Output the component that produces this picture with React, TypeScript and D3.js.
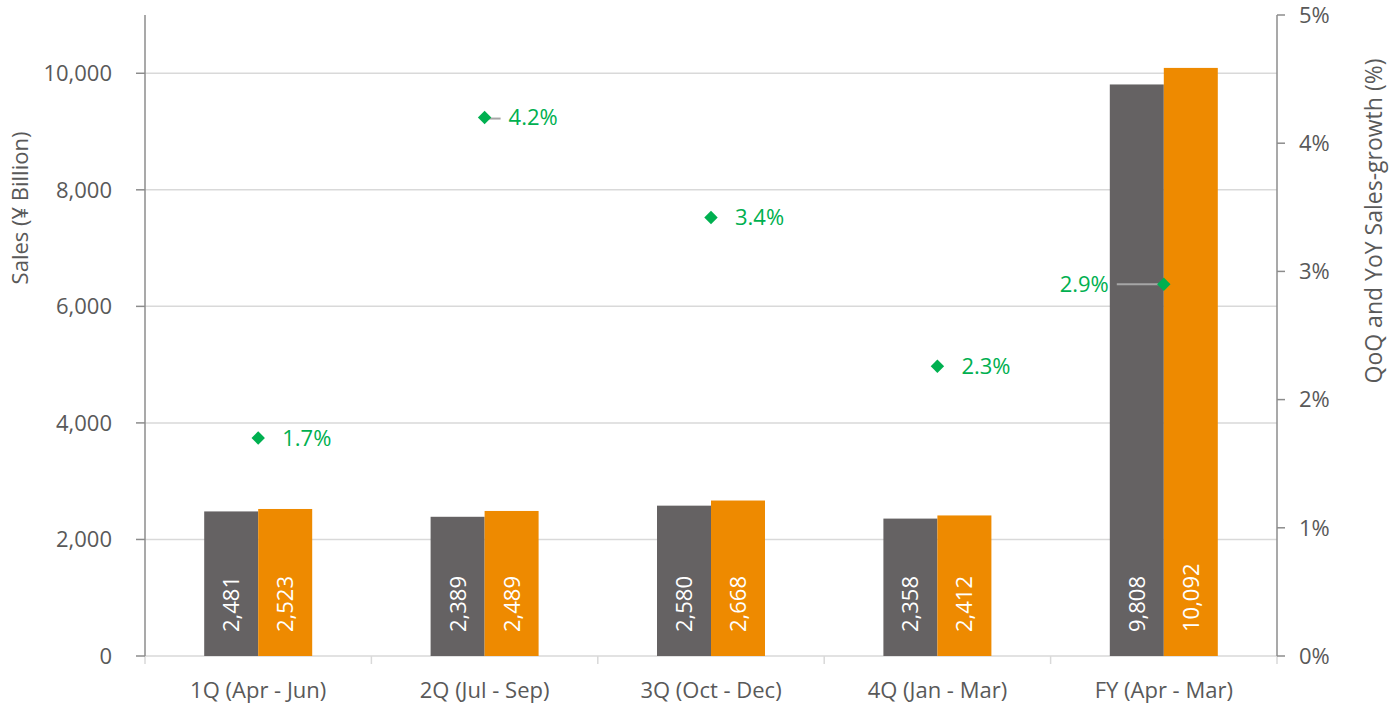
import React from "react";
import * as d3 from "d3";

const categories = ["1Q (Apr - Jun)", "2Q (Jul - Sep)", "3Q (Oct - Dec)", "4Q (Jan - Mar)", "FY (Apr - Mar)"];
const prevSales = [2481, 2389, 2580, 2358, 9808];
const currSales = [2523, 2489, 2668, 2412, 10092];
const growth = [1.7, 4.2, 3.42, 2.26, 2.9];
const growthLabelSide = ["right", "right", "right", "right", "left"];
const leftTicks = [0, 2000, 4000, 6000, 8000, 10000];
const rightTicks = [0, 1, 2, 3, 4, 5];

const W = 1399, H = 707;
const M = { left: 145, right: 1277, top: 15, bottom: 656 };
const FONT = "'Open Sans', 'Noto Sans', sans-serif";
const GRAY = "#656263";
const ORANGE = "#EE8A00";
const GREEN = "#00B050";
const TXT = "#595959";
const FS = 22;

export default function App() {
  const x = d3.scaleBand<string>().domain(categories).range([M.left, M.right]);
  const inner = d3.scaleBand<string>().domain(["prev", "curr"]).range([0, 108]);
  const y = d3.scaleLinear().domain([0, 11000]).range([M.bottom, M.top]);
  const y2 = d3.scaleLinear().domain([0, 5]).range([M.bottom, M.top]);
  const fmt = d3.format(",");
  const bw = inner.bandwidth();

  return (
    <svg width={W} height={H} style={{ position: "absolute", left: 0, top: 0, fontFamily: FONT }}>
      <rect width={W} height={H} fill="#fff" />
      {leftTicks.filter(t => t > 0).map(t => (
        <line key={t} x1={M.left} x2={M.right} y1={y(t)} y2={y(t)} stroke="#d9d9d9" strokeWidth={1.5} />
      ))}
      <line x1={M.left} x2={M.right} y1={M.bottom} y2={M.bottom} stroke="#d9d9d9" strokeWidth={1.5} />
      {categories.map((c, i) => (
        <line key={"bt" + i} x1={x(c)!} x2={x(c)!} y1={M.bottom} y2={M.bottom + 8} stroke="#d9d9d9" strokeWidth={1.5} />
      ))}
      <line x1={M.right} x2={M.right} y1={M.bottom} y2={M.bottom + 8} stroke="#d9d9d9" strokeWidth={1.5} />
      {categories.map((c, i) => {
        const cx = x(c)! + x.bandwidth() / 2 - 54;
        const vals = [prevSales[i], currSales[i]];
        const cols = [GRAY, ORANGE];
        return (
          <g key={"b" + i}>
            {["prev", "curr"].map((k, j) => {
              const bx = cx + inner(k)!;
              const by = y(vals[j]);
              return (
                <g key={k}>
                  <rect x={bx} y={by} width={bw} height={M.bottom - by} fill={cols[j]} />
                  <text
                    transform={`translate(${bx + bw / 2 + 8},${M.bottom - 24}) rotate(-90)`}
                    fill="#fff" fontSize={FS} textAnchor="start">
                    {fmt(vals[j])}
                  </text>
                </g>
              );
            })}
          </g>
        );
      })}
      <line x1={M.left} x2={M.left} y1={M.top} y2={M.bottom} stroke="#8c8c8c" strokeWidth={1.5} />
      {leftTicks.map(t => (
        <g key={"lt" + t}>
          <line x1={M.left - 9} x2={M.left} y1={y(t)} y2={y(t)} stroke="#8c8c8c" strokeWidth={1.5} />
          <text x={112} y={y(t)} dy="0.35em" textAnchor="end" fill={TXT} fontSize={FS}>{fmt(t)}</text>
        </g>
      ))}
      <text transform={`translate(28,208) rotate(-90)`} textAnchor="middle" fill={TXT} fontSize={FS}>Sales (¥ Billion)</text>
      <line x1={M.right} x2={M.right} y1={M.top} y2={M.bottom} stroke="#8c8c8c" strokeWidth={1.5} />
      {rightTicks.map(t => (
        <g key={"rt" + t}>
          <line x1={M.right} x2={M.right + 8} y1={y2(t)} y2={y2(t)} stroke="#8c8c8c" strokeWidth={1.5} />
          <text x={1299} y={y2(t)} dy="0.35em" textAnchor="start" fill={TXT} fontSize={FS}>{t}%</text>
        </g>
      ))}
      <text transform={`translate(1382,221) rotate(-90)`} textAnchor="middle" fill={TXT} fontSize={23}>QoQ and YoY Sales-growth (%)</text>
      {categories.map(c => (
        <text key={"cl" + c} x={x(c)! + x.bandwidth() / 2} y={690} dy="0.35em" textAnchor="middle" fill={TXT} fontSize={FS}>{c}</text>
      ))}
      {categories.map((c, i) => {
        const cx = x(c)! + x.bandwidth() / 2;
        const cy = y2(growth[i]);
        const left = growthLabelSide[i] === "left";
        return (
          <g key={"g" + i}>
            {i === 1 && <line x1={cx} x2={cx + 16} y1={cy + 1} y2={cy + 1} stroke="#a6a6a6" strokeWidth={2} />}
            {left && <line x1={cx - 47} x2={cx} y1={cy} y2={cy} stroke="#a6a6a6" strokeWidth={2} />}
            <path d={d3.symbol(d3.symbolDiamond2, 115)()!} transform={`translate(${cx},${cy})`} fill={GREEN} />
            <text x={left ? cx - 55 : cx + 24} y={cy} dy="0.35em" textAnchor={left ? "end" : "start"} fill={GREEN} fontSize={FS}>{growth[i].toFixed(1)}%</text>
          </g>
        );
      })}
    </svg>
  );
}
